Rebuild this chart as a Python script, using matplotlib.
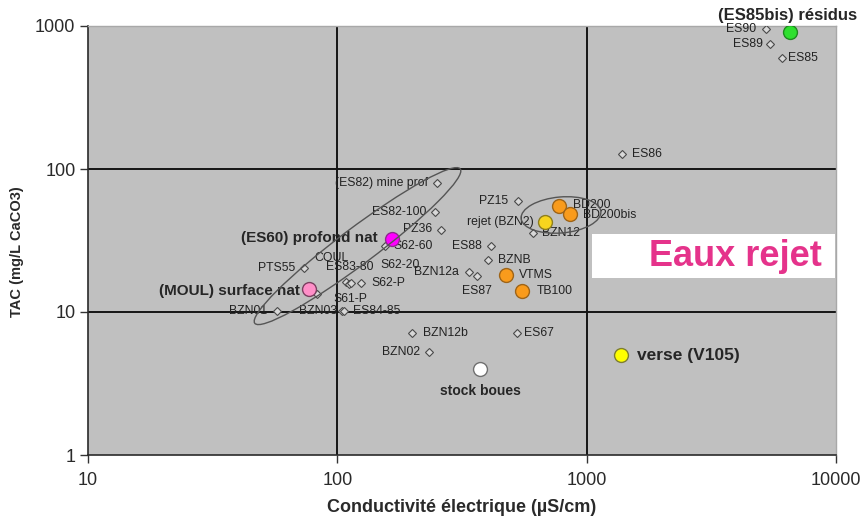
import matplotlib
matplotlib.use("Agg")
import numpy as np
import matplotlib.pyplot as plt
from matplotlib.patches import Ellipse, Rectangle
from matplotlib.transforms import Affine2D
from matplotlib.ticker import NullLocator

plt.rcParams['font.family'] = ['Liberation Sans', 'DejaVu Sans']

# ---- data -------------------------------------------------------------
# Ordinary sampling points (open diamonds): conductivity (uS/cm), TAC (mg/L CaCO3)
point_labels = ["ES90", "ES89", "ES85", "ES86", "(ES82) mine prof", "ES82-100",
                "PZ36", "S62-60", "ES88", "PZ15", "BZN12", "BZNB", "BZN12a",
                "ES87", "PTS55", "COUL", "ES83-80", "S62-20", "S62-P", "S61-P",
                "BZN01", "BZN03", "ES84-85", "BZN12b", "ES67", "BZN02"]
point_cond = [5244, 5441, 6078, 1387, 251, 247,
              261, 155, 414, 531, 610, 402, 337,
              363, 73.5, 108, 111, 113, 124, 82.9,
              57.3, 104.4, 106, 199, 526, 233]
point_tac = [953, 748, 598, 127, 79.8, 50,
             37.5, 28.9, 28.9, 59.7, 35.7, 23.1, 19.0,
             17.9, 20.3, 16.2, 15.7, 16.0, 16.0, 13.4,
             10.2, 10.2, 10.2, 7.13, 7.13, 5.25]

# Reference samples (filled circles)
sample_labels = ["(ES85bis) résidus", "(ES60) profond nat", "(MOUL) surface nat",
                 "BD200", "BD200bis", "rejet (BZN2)", "VTMS", "TB100",
                 "verse (V105)", "stock boues"]
sample_cond = [6545, 166, 77.0, 775, 858, 681, 475, 551, 1374, 374]
sample_tac = [908, 32.4, 14.5, 55.1, 48.4, 42.6, 18.2, 14.0, 5.0, 4.0]

x_ticks = [10, 100, 1000, 10000]
y_ticks = [1, 10, 100, 1000]

# Grouping ellipses: centre (conductivity, TAC)
group_centres = [(120.5, 28.9), (789, 47.7)]

# ---- styles -----------------------------------------------------------
sample_style = {
    "(ES85bis) résidus": ("#2EE02E", "#1F8A1F"),
    "(ES60) profond nat": ("#FF00FF", "#8E2A8E"),
    "(MOUL) surface nat": ("#FF8FC8", "#7A4060"),
    "BD200": ("#F99B1C", "#9E6418"),
    "BD200bis": ("#F99B1C", "#9E6418"),
    "rejet (BZN2)": ("#F7D51E", "#8E7E1E"),
    "VTMS": ("#F99B1C", "#9E6418"),
    "TB100": ("#F99B1C", "#9E6418"),
    "verse (V105)": ("#FFFF00", "#7E7E30"),
    "stock boues": ("#FFFFFF", "#707070"),
}
bold_labels = {"(ES85bis) résidus": 12, "(ES60) profond nat": 11,
               "(MOUL) surface nat": 11, "verse (V105)": 12.5,
               "stock boues": 10}

# label offsets in pixels (dx, dy downwards, alignment)
label_offset = {
    "ES90": (-10, 0, "right"), "ES89": (-7, 0, "right"), "ES85": (6, 0, "left"),
    "ES86": (10, 0, "left"), "(ES82) mine prof": (-9, 0, "right"),
    "ES82-100": (-9, 0, "right"), "PZ36": (-9, -1, "right"),
    "S62-60": (9, 0, "left"), "ES88": (-9, 0, "right"), "PZ15": (-10, 0, "right"),
    "BZN12": (9, 0, "left"), "BZNB": (10, 0, "left"), "BZN12a": (-10, 0, "right"),
    "ES87": (0, 15, "center"), "PTS55": (-9, 0, "right"),
    "COUL": (-14, -24, "center"), "ES83-80": (1, -17, "center"),
    "S62-20": (30, -18, "left"), "S62-P": (11, 0, "left"), "S61-P": (16, 5, "left"),
    "BZN01": (-10, 0, "right"), "BZN03": (-5, 0, "right"), "ES84-85": (9, 0, "left"),
    "BZN12b": (11, 0, "left"), "ES67": (7, 0, "left"), "BZN02": (-9, 0, "right"),
    "(ES85bis) résidus": (-3, -16, "center"), "(ES60) profond nat": (-15, -1, "right"),
    "(MOUL) surface nat": (-9, 2, "right"), "BD200": (14, -1, "left"),
    "BD200bis": (13, 1, "left"), "rejet (BZN2)": (-11, 0, "right"),
    "VTMS": (13, 0, "left"), "TB100": (15, 0, "left"),
    "verse (V105)": (16, 0, "left"), "stock boues": (0, 22, "center"),
}

W, H = 865, 519
fig = plt.figure(figsize=(W / 100, H / 100), dpi=100)
fig.patch.set_facecolor("white")
ax = fig.add_axes([88 / W, (H - 455) / H, 748 / W, 429 / H])
ax.set_facecolor("#C0C0C0")
ax.set_xscale("log")
ax.set_yscale("log")
ax.set_xlim(10, 10000)
ax.set_ylim(1, 1000)
ax.set_xticks(x_ticks)
ax.set_xticklabels([str(t) for t in x_ticks])
ax.set_yticks(y_ticks)
ax.set_yticklabels([str(t) for t in y_ticks])
ax.xaxis.set_minor_locator(NullLocator())
ax.yaxis.set_minor_locator(NullLocator())
ax.tick_params(axis="both", direction="out", length=6, width=1.0,
               color="#333333", labelcolor="#2a2a2a", labelsize=13)
ax.tick_params(axis="x", pad=6)
ax.tick_params(axis="y", pad=3)
for side in ("left", "bottom"):
    ax.spines[side].set_color("#2a2a2a")
    ax.spines[side].set_linewidth(1.2)
for side in ("top", "right"):
    ax.spines[side].set_color("#A8A8A8")
    ax.spines[side].set_linewidth(1.0)

# interior decade grid
for v in y_ticks[1:-1]:
    ax.axhline(v, color="#151515", lw=1.4, zorder=1)
for v in x_ticks[1:-1]:
    ax.axvline(v, color="#151515", lw=1.4, zorder=1)

# grouping ellipses drawn in pixel space around a data centre
ell_shapes = [(257, 36, 36.9), (80, 36, 5)]
for (cx, cy), (w, h, ang) in zip(group_centres, ell_shapes):
    px, py = ax.transData.transform((cx, cy))
    e = Ellipse((0, 0), w, h, angle=ang, fill=False, edgecolor="#555555",
                lw=1.0, zorder=2, transform=Affine2D().translate(px, py))
    fig.add_artist(e)

# diamonds
ax.plot(point_cond, point_tac, linestyle="none", marker="D", markersize=4.0,
        mfc="#D8D8D8", mec="#4A4A4A", mew=0.8, zorder=3)
for name, x, y in zip(point_labels, point_cond, point_tac):
    dx, dy, ha = label_offset[name]
    ax.annotate(name, (x, y), xytext=(dx, -dy), textcoords="offset pixels",
                ha=ha, va="center", fontsize=8.8, color="#222222", zorder=3)

# filled circles
for name, x, y in zip(sample_labels, sample_cond, sample_tac):
    fc, ec = sample_style[name]
    ax.plot([x], [y], linestyle="none", marker="o", markersize=10,
            mfc=fc, mec=ec, mew=1.0, zorder=5)
    dx, dy, ha = label_offset[name]
    if name in bold_labels:
        ax.annotate(name, (x, y), xytext=(dx, -dy), textcoords="offset pixels",
                    ha=ha, va="center", fontsize=bold_labels[name],
                    fontweight="bold", color="#262626", zorder=4)
    else:
        ax.annotate(name, (x, y), xytext=(dx, -dy), textcoords="offset pixels",
                    ha=ha, va="center", fontsize=8.8, color="#222222", zorder=4)

# axis titles
fig.text(462 / W, 1 - 508 / H, "Conductivité électrique (µS/cm)", ha="center",
         va="center", fontsize=13, fontweight="bold", color="#2a2a2a")
fig.text(17 / W, 1 - 252 / H, "TAC (mg/L CaCO3)", ha="center", va="center",
         rotation=90, fontsize=10.5, fontweight="bold", color="#2a2a2a")

# "Eaux rejet" tag
fig.add_artist(Rectangle((592 / W, 1 - 278 / H), 243 / W, 44 / H,
                         transform=fig.transFigure, facecolor="white",
                         edgecolor="none", zorder=6))
fig.text(735 / W, 1 - 256 / H, "Eaux rejet", ha="center", va="center",
         fontsize=26, fontweight="bold", color="#E5338B", zorder=7)

fig.savefig("out.png", dpi=100)
